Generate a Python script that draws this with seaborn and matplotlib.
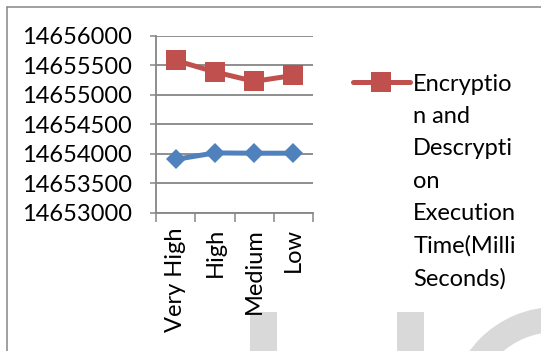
import matplotlib
matplotlib.use("Agg")
import matplotlib.pyplot as plt
import numpy as np
import pandas as pd
import seaborn as sns
from matplotlib.lines import Line2D
from matplotlib.patches import Rectangle, Wedge
from matplotlib.transforms import Affine2D
from matplotlib.ticker import FixedLocator

# Security levels on the x axis
levels = ["Very High", "High", "Medium", "Low"]
# Encryption and decryption execution time (ms)
enc_dec_time = [14655585, 14655390, 14655230, 14655330]
# Second series (no legend entry)
other_time = [14653905, 14654015, 14654010, 14654010]
# Value axis ticks
y_ticks = [14653000, 14653500, 14654000, 14654500, 14655000, 14655500, 14656000]
legend_label = "Encryptio\nn and\nDescrypti\non\nExecution\nTime(Milli\nSeconds)"

W, H = 541, 351
RED = "#C0504D"
BLUE = "#4F81BD"
GRID = "#868686"
FS = 17

sns.set_theme(style="white")
plt.rcParams["font.family"] = ["Lato", "DejaVu Sans"]

fig = plt.figure(figsize=(W / 100, H / 100), dpi=100)
px = Affine2D().scale(1 / W, -1 / H).translate(0, 1) + fig.transFigure

# outer chart frame
fig.add_artist(Line2D([6.5, W], [6.5, 6.5], transform=px, color=GRID, lw=1.1))
fig.add_artist(Line2D([6.5, 6.5], [6.5, H], transform=px, color=GRID, lw=1.1))

# light gray watermark shapes along the bottom
wm = "#D9D9D9"
fig.add_artist(Rectangle((250, 312), 27, 45, transform=px, color=wm, zorder=-1, lw=0))
fig.add_artist(Rectangle((397, 312), 27, 45, transform=px, color=wm, zorder=-1, lw=0))
fig.add_artist(Wedge((556, 414), 107, 0, 360, width=25, transform=px, color=wm, zorder=-1, lw=0))

left, right, top, bottom = 156, 313, 36, 212.7
ax = fig.add_axes([left / W, 1 - bottom / H, (right - left) / W, (bottom - top) / H])
ax.set_facecolor("none")

df = pd.DataFrame({"level": levels, "enc": enc_dec_time, "other": other_time})
sns.lineplot(data=df, x="level", y="other", ax=ax, color=BLUE, lw=3.6,
             marker="D", markersize=10.5, markeredgewidth=0, sort=False, legend=False)
sns.lineplot(data=df, x="level", y="enc", ax=ax, color=RED, lw=3.6,
             marker="s", markersize=14, markeredgewidth=0, sort=False, label=legend_label)

ax.set_xlim(-0.5, len(levels) - 0.5)
ax.set_ylim(y_ticks[0], y_ticks[-1])
ax.set_xlabel("")
ax.set_ylabel("")

ax.set_yticks(y_ticks)
ax.set_yticklabels([str(v) for v in y_ticks])
ax.yaxis.grid(True, color=GRID, lw=1.3)
ax.xaxis.grid(False)
ax.set_axisbelow(True)

ax.set_xticks(range(len(levels)))
ax.set_xticklabels(levels, rotation=90, va="top", ha="center")
ax.xaxis.set_minor_locator(FixedLocator(np.arange(-0.5, len(levels), 1.0)))

ax.tick_params(axis="y", which="major", left=True, length=4.5, width=1.1, color=GRID,
               pad=13, labelsize=FS, labelcolor="black")
ax.tick_params(axis="x", which="major", bottom=True, length=0, pad=11,
               labelsize=FS, labelcolor="black")
ax.tick_params(axis="x", which="minor", bottom=True, length=6.5, width=1.1, color=GRID)

for side in ["top", "right"]:
    ax.spines[side].set_visible(False)
for side in ["left", "bottom"]:
    ax.spines[side].set_color(GRID)
    ax.spines[side].set_linewidth(1.3)

leg = ax.legend(loc="upper left", bbox_to_anchor=(353 / W, 1 - 74 / H),
                bbox_transform=fig.transFigure, frameon=False, fontsize=FS,
                handlelength=2.4, handletextpad=0.15, borderpad=0, borderaxespad=0)
for t in leg.get_texts():
    t.set_linespacing(1.66)
    t.set_color("black")
for col in leg._legend_handle_box.get_children():
    for row in col.get_children():
        row.align = "top"

fig.savefig("out.png", dpi=100)
